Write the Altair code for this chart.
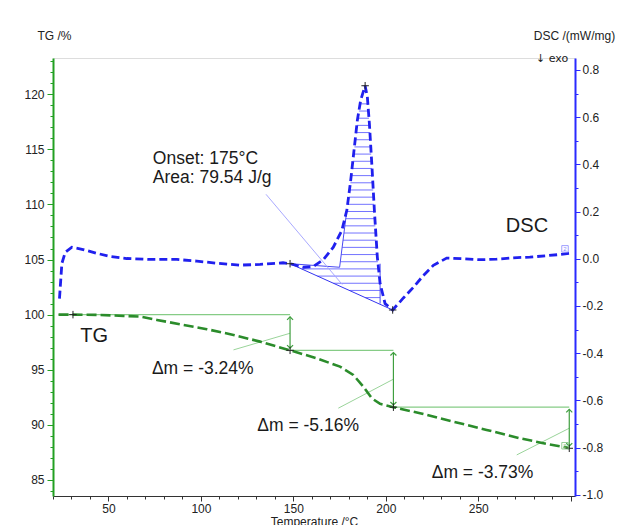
import altair as alt
import numpy as np
import pandas as pd

FONT = "Liberation Sans"

# ---------------- DSC curve (mW/mg) ----------------
dsc_T = [23.5, 24.8, 26.6, 30.2, 36.3, 43.7, 50.9, 59.9, 72.5, 87.0,
         97.8, 108.6, 121.2, 132.0, 144.4, 148.2, 155.4, 160.8, 166.2, 171.6,
         176.2, 178.9, 181.0, 182.8, 184.6, 186.4, 188.8, 190.0, 191.1, 192.4,
         193.8, 195.4, 196.9, 199.6, 203.7, 209.5, 214.9, 220.3, 225.7, 232.9,
         241.9, 250.9, 259.9, 268.9, 277.9, 287.0, 294.2, 299.2]
dsc_v = [-0.169, -0.020, 0.027, 0.049, 0.039, 0.023, 0.010, 0.001, -0.003, -0.003,
         -0.010, -0.019, -0.027, -0.024, -0.017, -0.021, -0.036, -0.033, -0.004, 0.049,
         0.120, 0.205, 0.332, 0.460, 0.587, 0.672, 0.733, 0.686, 0.573, 0.403,
         0.205, 0.007, -0.105, -0.190, -0.217, -0.166, -0.121, -0.071, -0.028, 0.003,
         0.0, -0.004, -0.002, 0.004, 0.007, 0.013, 0.018, 0.023]

# ---------------- TG curve (%) ----------------
tg_T = [23.0, 30.8, 45.5, 58.1, 67.1, 76.2, 90.5, 103.2, 117.6, 132.0,
        148.2, 162.6, 175.2, 182.4, 187.8, 192.4, 196.9, 204.1, 218.5, 236.5,
        254.5, 272.5, 287.0, 297.8, 299.2]
tg_v = [100.0, 100.0, 99.97, 99.88, 99.82, 99.52, 99.07, 98.68, 98.16, 97.55,
        96.76, 96.04, 95.28, 94.53, 93.47, 92.41, 91.90, 91.60, 91.05, 90.29,
        89.54, 88.78, 88.27, 87.95, 87.87]

# ---------------- TG step analysis ----------------
ref_start_T = 23.0
step_T = [148.2, 204.1, 299.2]
step_levels = [100.0, 96.76, 91.60, 87.87]
step_labels = ["Δm = -3.24%", "Δm = -5.16%", "Δm = -3.73%"]
step_label_T = [73.5, 130.5, 224.8]
step_label_v = [94.62, 89.47, 85.15]
pointer_T = [117.6, 174.3, 270.8]
pointer_v = [96.80, 91.51, 87.27]
pointer_T2 = [148.2, 204.1, 299.2]
pointer_v2 = [98.31, 94.14, 89.69]
tg_marker_T = [30.8, 148.2, 204.1, 299.2]
tg_marker_v = [100.0, 96.76, 91.60, 87.87]

# ---------------- DSC peak analysis ----------------
onset_T = 175.0
dsc_marker_T = [148.2, 188.8, 203.7]   # onset start, peak, end
dsc_marker_v = [-0.021, 0.733, -0.217]
onset_base_v = -0.036
tangent_top = (178.9, 0.205)
right_limit_T = 196.9
area_pointer = [(135.2, 0.273), (176.4, -0.109)]
hatch_levels = [-0.195, -0.1646, -0.1342, -0.1038, -0.0734, -0.043, -0.0126, 0.0178,
                0.0482, 0.0786, 0.109, 0.1394, 0.1698, 0.2002, 0.2306, 0.261, 0.2914,
                0.3218, 0.3522, 0.3826, 0.413, 0.4434, 0.4738, 0.5042, 0.5346, 0.565,
                0.5954, 0.6258, 0.6562]

# ---------------- scales / axes ----------------
X_DOM = [20.0, 302.3]
TG_DOM = [83.54, 123.29]
DSC_DOM = [-1.0051, 0.8505]

GREEN_AX = "#22a022"
BLUE_AX = "#2a2aff"
LABEL_C = "#222222"

x_enc = alt.X(
    "T:Q",
    scale=alt.Scale(domain=X_DOM, nice=False, zero=False),
    axis=alt.Axis(
        title="Temperature /°C", values=list(range(20, 301, 10)),
        labelExpr="datum.value % 50 === 0 && datum.value < 300 ? datum.label : ''",
        tickSize={"condition": {"test": "datum.value % 50 === 0", "value": 5}, "value": 3},
        tickColor="#333333", domainColor="#333333", labelColor=LABEL_C,
        labelFontSize=12, labelPadding=2, titleFontSize=12, titleFontWeight="normal",
        titleColor=LABEL_C, titlePadding=2, grid=False, labelFont=FONT, titleFont=FONT,
    ),
)
x2_enc = alt.X2("T2:Q")

tg_y = alt.Y(
    "v:Q",
    scale=alt.Scale(domain=TG_DOM, nice=False, zero=False),
    axis=alt.Axis(
        orient="left", title="TG /%", values=list(range(84, 124)),
        labelExpr="datum.value % 5 === 0 ? datum.label : ''",
        tickSize={"condition": {"test": "datum.value % 5 === 0", "value": 6}, "value": 3},
        tickColor=GREEN_AX, domainColor=GREEN_AX, domainWidth=2, labelColor=LABEL_C,
        labelFontSize=12, labelPadding=3, grid=False, labelFont=FONT, titleFont=FONT,
        titleAngle=0, titleX=1, titleY=-18.5, titleAlign="center", titleBaseline="alphabetic",
        titleFontSize=12, titleFontWeight="normal", titleColor=LABEL_C,
    ),
)
dsc_y = alt.Y(
    "v:Q",
    scale=alt.Scale(domain=DSC_DOM, nice=False, zero=False),
    axis=alt.Axis(
        orient="right", title="DSC /(mW/mg)",
        values=[-1.0, -0.9, -0.8, -0.7, -0.6, -0.5, -0.4, -0.3, -0.2, -0.1, 0.0,
                0.1, 0.2, 0.3, 0.4, 0.5, 0.6, 0.7, 0.8],
        labelExpr="abs(round(datum.value*10)) % 2 === 0 ? (datum.value < -0.001 ? '-' : '') + format(abs(datum.value), '.1f') : ''",
        tickSize={"condition": {"test": "abs(round(datum.value*10)) % 2 === 0", "value": 5}, "value": 3},
        tickColor=BLUE_AX, domainColor=BLUE_AX, domainWidth=2, labelColor=LABEL_C,
        labelFontSize=12, labelPadding=2, grid=False, labelFont=FONT, titleFont=FONT,
        titleAngle=0, titleX=-1, titleY=-18.5, titleAlign="center", titleBaseline="alphabetic",
        titleFontSize=12, titleFontWeight="normal", titleColor=LABEL_C,
    ),
)
y2_enc = alt.Y2("v2:Q")

CROSS = "M-1,0L1,0M0,-1L0,1"
UP = "M-1,1L0,0L1,1"
DOWN = "M-1,-1L0,0L1,-1"

# ---------------- TG layers ----------------
tg_df = pd.DataFrame({"T": tg_T, "v": tg_v})
tg_line = alt.Chart(tg_df).mark_line(color="#2b8c2b", strokeWidth=2.6, strokeDash=[10, 4]).encode(x=x_enc, y=tg_y)

ref_df = pd.DataFrame({"T": [ref_start_T] + step_T[:-1], "T2": step_T, "v": step_levels[:-1]})
tg_ref = alt.Chart(ref_df).mark_rule(color="#86cc86", strokeWidth=1.3).encode(x=x_enc, x2=x2_enc, y=tg_y)

shaft_df = pd.DataFrame({"T": step_T,
                         "v": [step_levels[i] - 0.2 for i in range(3)],
                         "v2": [step_levels[i + 1] + 0.2 for i in range(3)]})
tg_shaft = alt.Chart(shaft_df).mark_rule(color="#3f9f3f", strokeWidth=1.2).encode(x=x_enc, y=tg_y, y2=y2_enc)
head_up = alt.Chart(shaft_df).mark_point(shape=UP, size=36, color="#3f9f3f", strokeWidth=1.2, opacity=1).encode(x=x_enc, y=tg_y)
head_dn = alt.Chart(shaft_df.assign(v=shaft_df["v2"])).mark_point(shape=DOWN, size=36, color="#3f9f3f", strokeWidth=1.2, opacity=1).encode(x=x_enc, y=tg_y)

ptr_df = pd.DataFrame({"T": pointer_T, "v": pointer_v, "T2": pointer_T2, "v2": pointer_v2})
tg_ptr = alt.Chart(ptr_df).mark_rule(color="#9ad49a", strokeWidth=1).encode(x=x_enc, x2=x2_enc, y=tg_y, y2=y2_enc)

tgm_df = pd.DataFrame({"T": tg_marker_T, "v": tg_marker_v})
tg_mark = alt.Chart(tgm_df).mark_point(shape=CROSS, size=56, color="#222222", strokeWidth=1, opacity=1).encode(x=x_enc, y=tg_y)

tgl_df = pd.DataFrame({"T": step_label_T + [34.7], "v": step_label_v + [97.52],
                       "txt": step_labels + ["TG"], "fs": [17.5, 17.5, 17.5, 20]})
tg_text = alt.Chart(tgl_df).mark_text(align="left", baseline="alphabetic", font=FONT, color="#1a1a1a").encode(
    x=x_enc, y=tg_y, text="txt:N", size=alt.Size("fs:Q", scale=None))

tg_tag_df = pd.DataFrame({"T": [296.9], "v": [88.1], "txt": ["2"]})
tg_tag = alt.Chart(tg_tag_df).mark_point(shape="square", size=42, color="#7fc07f", strokeWidth=0.8, opacity=1).encode(x=x_enc, y=tg_y)
tg_tag_t = alt.Chart(tg_tag_df).mark_text(fontSize=6, color="#7fc07f", font=FONT, baseline="middle").encode(x=x_enc, y=tg_y, text="txt:N")

tg_group = alt.layer(tg_ref, tg_ptr, tg_shaft, head_up, head_dn, tg_line, tg_mark, tg_text, tg_tag, tg_tag_t)

# ---------------- DSC layers ----------------
Tarr = np.array(dsc_T)
varr = np.array(dsc_v)
i_pk, i_min = 26, 34
rise_T, rise_v = Tarr[18:i_pk + 1], varr[18:i_pk + 1]
desc_T, desc_v = Tarr[i_pk:i_min + 1][::-1], varr[i_pk:i_min + 1][::-1]
(b0T, b1T), (b0v, b1v) = (dsc_marker_T[0], dsc_marker_T[2]), (dsc_marker_v[0], dsc_marker_v[2])


def base_T(v):
    return b0T + (v - b0v) / (b1v - b0v) * (b1T - b0T)


def tan_T(v):
    return onset_T + (v - onset_base_v) / (tangent_top[1] - onset_base_v) * (tangent_top[0] - onset_T)


hatch_rows = []
for lv in hatch_levels:
    right = float(np.interp(lv, desc_v, desc_T))
    if lv < b0v:
        right = min(right, right_limit_T)
    if lv < onset_base_v:
        left = base_T(lv)
    elif lv <= tangent_top[1]:
        left = max(tan_T(lv), float(np.interp(lv, rise_v, rise_T)))
    else:
        left = float(np.interp(lv, rise_v, rise_T))
    if right > left:
        hatch_rows.append({"T": left, "T2": right, "v": lv})
hatch_df = pd.DataFrame(hatch_rows)
hatch = alt.Chart(hatch_df).mark_rule(color="#5a5aff", strokeWidth=1, opacity=0.85).encode(x=x_enc, x2=x2_enc, y=dsc_y)

seg_df = pd.DataFrame([
    {"T": b0T, "v": b0v, "T2": b1T, "v2": b1v, "c": "#3333f0"},
    {"T": b0T, "v": b0v, "T2": onset_T, "v2": onset_base_v, "c": "#4a4af2"},
    {"T": onset_T, "v": onset_base_v, "T2": tangent_top[0], "v2": tangent_top[1], "c": "#4a4af2"},
    {"T": right_limit_T, "v": b0v, "T2": right_limit_T, "v2": -0.19, "c": "#4a4af2"},
    {"T": area_pointer[0][0], "v": area_pointer[0][1], "T2": area_pointer[1][0], "v2": area_pointer[1][1], "c": "#a9a9ff"},
])
segs = alt.Chart(seg_df).mark_rule(strokeWidth=1).encode(
    x=x_enc, x2=x2_enc, y=dsc_y, y2=y2_enc, color=alt.Color("c:N", scale=None))

dsc_df = pd.DataFrame({"T": dsc_T, "v": dsc_v})
dsc_line = alt.Chart(dsc_df).mark_line(color="#2020ee", strokeWidth=2.8, strokeDash=[8, 4]).encode(x=x_enc, y=dsc_y)

dm_df = pd.DataFrame({"T": dsc_marker_T, "v": dsc_marker_v})
dsc_mark = alt.Chart(dm_df).mark_point(shape=CROSS, size=56, color="#222222", strokeWidth=1, opacity=1).encode(x=x_enc, y=dsc_y)

dl_df = pd.DataFrame({
    "T": [74.0, 74.0, 264.9],
    "v": [0.4004, 0.321, 0.113],
    "txt": ["Onset: 175°C", "Area: 79.54 J/g", "DSC"],
    "fs": [17.5, 17.5, 20],
})
dsc_text = alt.Chart(dl_df).mark_text(align="left", baseline="alphabetic", font=FONT, color="#1a1a1a").encode(
    x=x_enc, y=dsc_y, text="txt:N", size=alt.Size("fs:Q", scale=None))

exo_df = pd.DataFrame({"T": [298.6], "v": [0.834], "txt": ["↓ exo"]})
exo_text = alt.Chart(exo_df).mark_text(align="right", baseline="alphabetic", font="DejaVu Sans", fontSize=11, color=LABEL_C).encode(
    x=x_enc, y=dsc_y, text="txt:N")

dsc_tag_df = pd.DataFrame({"T": [296.9], "v": [0.042], "txt": ["2"]})
dsc_tag = alt.Chart(dsc_tag_df).mark_point(shape="square", size=42, color="#8888ff", strokeWidth=0.8, opacity=1).encode(x=x_enc, y=dsc_y)
dsc_tag_t = alt.Chart(dsc_tag_df).mark_text(fontSize=6, color="#8888ff", font=FONT, baseline="middle").encode(x=x_enc, y=dsc_y, text="txt:N")

dsc_group = alt.layer(hatch, segs, dsc_line, dsc_mark, dsc_text, exo_text, dsc_tag, dsc_tag_t)

chart = (
    alt.layer(tg_group, dsc_group)
    .resolve_scale(y="independent")
    .properties(
        width=522, height=438,
        padding={"left": 53, "top": 58, "right": 46, "bottom": 29},
        autosize=alt.AutoSizeParams(type="none"),
        background="white",
    )
    .configure_view(stroke=None)
    .configure(font=FONT)
)

chart.save("out.html", embed_options={"renderer": "svg", "actions": False})
